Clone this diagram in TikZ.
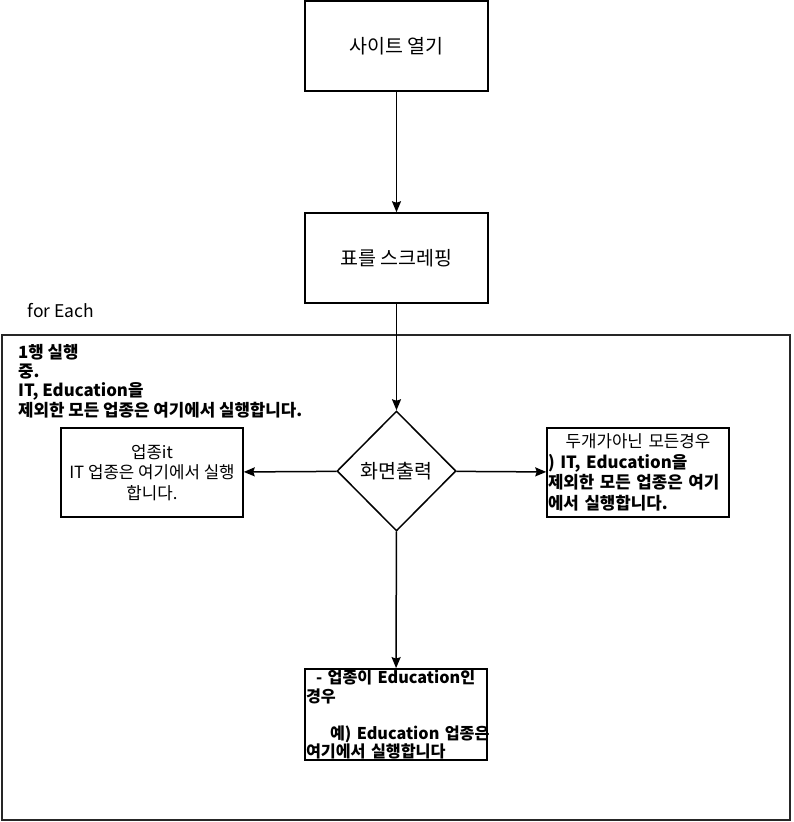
\documentclass[tikz,border=0pt]{standalone}
\usepackage{fontspec}
\setmainfont{Noto Sans CJK KR}
\usetikzlibrary{shapes.geometric,arrows.meta}

\begin{document}
\begin{tikzpicture}[x=1pt,y=-1pt,auto]

    % Styles
    \tikzstyle{process} = [rectangle, minimum width=183pt, minimum height=90pt, text centered, draw=black, line width=1.5pt, font=\fontsize{19.5}{23}\selectfont]
    \tikzstyle{process2} = [rectangle, minimum width=182pt, minimum height=89pt, inner sep=1pt, draw=black, line width=1.5pt, font=\fontsize{16.8}{20.5}\selectfont]
    \tikzstyle{decision} = [diamond, minimum width=119pt, minimum height=120pt, inner sep=0pt, draw=black, line width=1.5pt, font=\fontsize{19.5}{22}\selectfont]
    \tikzstyle{arrow} = [line width=1.5pt,->,>={Stealth[length=11pt,width=9pt,inset=1.5pt]}]

    \useasboundingbox (0,0) rectangle (793,822);

    % Boucle
    \node (loop) [rectangle, draw=black!85, line width=1.7pt, minimum width=788pt, minimum height=485pt] at (396,577.5) {};
    \node (foreach) [anchor=west, font=\fontsize{17.5}{20}\selectfont] at (24,311) {for Each};
    \node (note) [anchor=north west, align=left, inner sep=0pt, font=\fontsize{16.8}{19.3}\selectfont\bfseries] at (18,344) {1행 실행\\중.\\IT, Education을\\제외한 모든 업종은 여기에서 실행합니다.};

    % Noeuds
    \node (site) [process] at (396.5,46) {사이트 열기};
    \node (table) [process] at (396.5,258) {표를 스크레핑};
    \node (out) [decision] at (396.5,471) {화면출력};
    \node (itbox) [process2, align=center] at (152,472.5) {업종it\\IT 업종은 여기에서 실행\\합니다.};
    \node (other) [process2, text width=180pt, align=left] at (638,472.5) {{\centering 두개가아닌 모든경우\par}\bfseries ) IT, Education을\\제외한 모든 업종은 여기\\에서 실행합니다.};
    \node (edu) [process2, text width=180pt, align=left, font=\fontsize{16.2}{18.5}\selectfont\bfseries] at (396,714.5) {\mbox{\hspace{10pt}- 업종이 Education인}\\경우\\[18.5pt]\mbox{\hspace{24pt}예) Education 업종은}\\여기에서 실행합니다};

    % Flèches
    \draw [arrow] (site) -- (table);
    \draw [arrow] (table) -- (out);
    \draw [arrow] (out) -- (itbox);
    \draw [arrow] (out) -- (other);
    \draw [arrow] (out) -- (edu);

\end{tikzpicture}
\end{document}
